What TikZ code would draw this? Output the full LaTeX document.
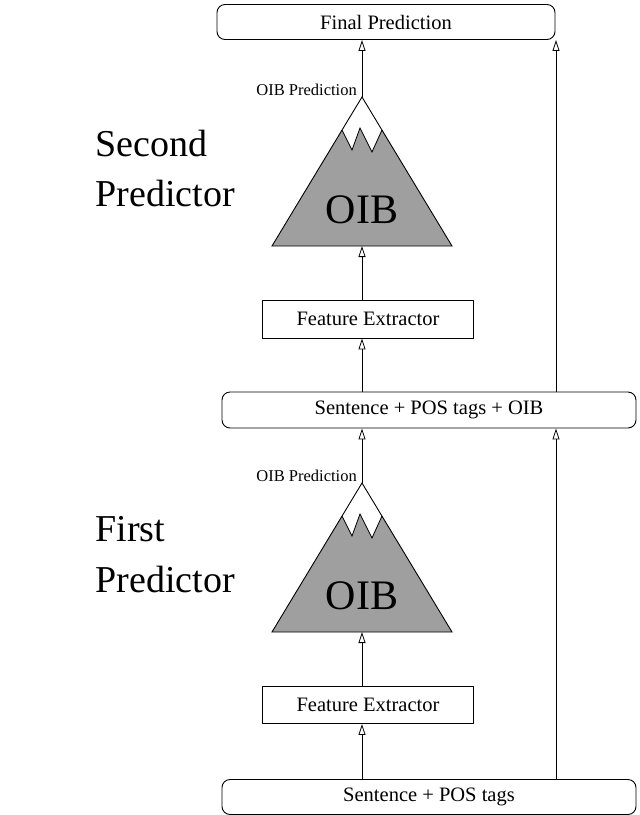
\documentclass[tikz,border=0pt]{standalone}
\usepackage{fontspec}
\setmainfont{Liberation Serif}
\usetikzlibrary{arrows.meta}
\begin{document}
\begin{tikzpicture}[x=1pt,y=-1pt,
  rbox/.style={draw,line width=0.9pt,rounded corners=8pt,font=\fontsize{20.5}{22}\selectfont},
  sbox/.style={draw,line width=0.9pt,font=\fontsize{20.5}{22}\selectfont},
  arr/.style={line width=0.8pt,-{Triangle[open,length=11pt,width=7pt]}},
  big/.style={font=\fontsize{38}{40}\selectfont,anchor=west},
  small/.style={font=\fontsize{16.5}{17}\selectfont}]
\useasboundingbox (0,0) rectangle (640,815);
\node[rbox,minimum width=338pt,minimum height=35pt] (fp) at (386,22) {Final Prediction};
\node[sbox,minimum width=211pt,minimum height=38pt] (fe2) at (368,319) {Feature Extractor};
\node[rbox,minimum width=414pt,minimum height=36pt] (s2) at (429,410) {Sentence + POS tags + OIB};
\node[sbox,minimum width=211pt,minimum height=37pt] (fe1) at (368,705) {Feature Extractor};
\node[rbox,minimum width=414pt,minimum height=35pt] (s1) at (429,797) {Sentence + POS tags};
\foreach \n/\dy in {t2/0,t1/386}{
  \begin{scope}[yshift=-\dy pt]
  \fill[gray!75] (342,130) -- (352,150) -- (360,128) -- (372,152) -- (382,130) -- (452,246) -- (272,246) -- cycle;
  \draw[line width=0.9pt] (362,97) -- (452,246) -- (272,246) -- cycle;
  \draw[line width=0.8pt] (342,130) -- (352,150) -- (360,128) -- (372,152) -- (382,130);
  \node[font=\fontsize{42}{42}\selectfont,text=black] (\n oib) at (362,210) {OIB};
  \coordinate (\n top) at (362,97);
  \coordinate (\n bot) at (362,246);
  \end{scope}
}
\node[small,anchor=south east,inner sep=1pt] (l2) at (358,97) {OIB Prediction};
\node[small,anchor=south east,inner sep=1pt] (l1) at (358,483) {OIB Prediction};
\node[big] (sp1) at (92,143) {Second};
\node[big] (sp2) at (92,193) {Predictor};
\node[big] (fp1) at (92,529) {First};
\node[big] (fp2) at (92,579) {Predictor};
\draw[arr] (t2top) -- (fp.south -| t2top);
\draw[arr] (fe2.north -| t2bot) -- (t2bot);
\draw[arr] (s2.north -| t2bot) -- (fe2.south -| t2bot);
\draw[arr] (t1top) -- (s2.south -| t1top);
\draw[arr] (fe1.north -| t1bot) -- (t1bot);
\draw[arr] (s1.north -| t1bot) -- (fe1.south -| t1bot);
\draw[arr] (s1.north -| 556,0) -- (s2.south -| 556,0);
\draw[arr] (s2.north -| 556,0) -- (fp.south -| 556,0);
\end{tikzpicture}
\end{document}
